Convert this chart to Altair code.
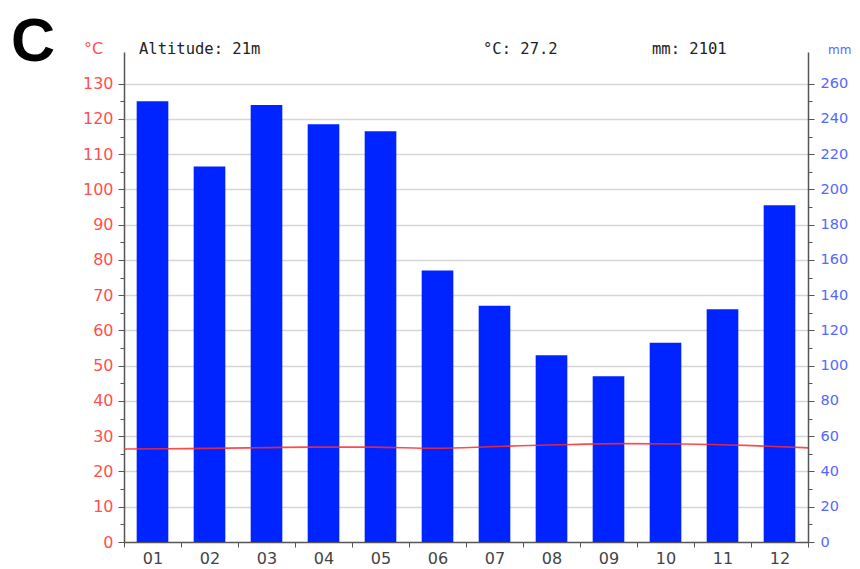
import altair as alt
import pandas as pd

# ---- data ----
months = ["01", "02", "03", "04", "05", "06", "07", "08", "09", "10", "11", "12"]
precip_mm = [250, 213, 248, 237, 233, 154, 134, 106, 94, 113, 132, 191]
temp_c = [26.4, 26.5, 26.7, 26.9, 26.9, 26.6, 27.1, 27.6, 27.9, 27.8, 27.4, 26.7]
temp_ticks = list(range(0, 131, 5))
mm_ticks = list(range(0, 261, 10))
panel_letter = "C"
altitude_text = "Altitude: 21m"
mean_temp_text = "°C: 27.2"
total_mm_text = "mm: 2101"
temp_unit = "°C"
mm_unit = "mm"

df = pd.DataFrame({"month": months, "precip": precip_mm, "temp": temp_c})

RED = "#ff4f4f"
BLUE = "#5468ff"
BAR = "#0024ff"
AXC = "#555555"
GRID = "#d6d6d6"

W, H = 684, 490

bars = alt.Chart(df).mark_bar(color=BAR, width=alt.RelativeBandSize(0.555)).encode(
    x=alt.X("month:O", sort=months,
            scale=alt.Scale(paddingInner=0, paddingOuter=0),
            axis=alt.Axis(title=None, labelAngle=0, tickBand="extent",
                          labelColor="#444444", labelFont="DejaVu Sans", labelFontSize=16,
                          tickSize=5, tickColor=AXC, domainColor=AXC, domainWidth=1.5,
                          labelPadding=3, grid=False)),
    y=alt.Y("precip:Q", scale=alt.Scale(domain=[0, 278], nice=False, zero=True),
            axis=alt.Axis(orient="right", title=None, values=mm_ticks,
                          labelExpr="datum.value % 20 == 0 ? datum.label : ''",
                          labelColor=BLUE, labelFont="DejaVu Sans", labelFontSize=14.5,
                          tickSize={"condition": {"test": "datum.value % 20 == 0", "value": 6}, "value": 4},
                          tickColor=AXC, domainColor=AXC, domainWidth=1.5,
                          labelPadding=6, grid=False)),
)

line = alt.Chart(df).mark_line(color="#ff2a2a", strokeWidth=1.6, interpolate="monotone", opacity=0.85).encode(
    x=alt.X("month:O", sort=months, scale=alt.Scale(type="point", padding=0), axis=None),
    y=alt.Y("temp:Q", scale=alt.Scale(domain=[0, 139], nice=False, zero=True),
            axis=alt.Axis(orient="left", title=None, values=temp_ticks,
                          labelExpr="datum.value % 10 == 0 ? datum.label : ''",
                          labelColor=RED, labelFont="DejaVu Sans", labelFontSize=16,
                          tickSize={"condition": {"test": "datum.value % 10 == 0", "value": 6}, "value": 4},
                          tickColor=AXC, domainColor=AXC, domainWidth=1.5,
                          labelPadding=5, grid=True, gridColor=GRID, gridWidth=1.3,
                          gridOpacity={"condition": {"test": "datum.value % 10 == 0 && datum.value > 0", "value": 1}, "value": 0})),
)

def label(text, x, y, color="#222222", size=15.5, font="DejaVu Sans Mono", weight="normal", align="left"):
    return alt.Chart(pd.DataFrame({"t": [text]})).mark_text(
        align=align, baseline="alphabetic", color=color, fontSize=size, font=font, fontWeight=weight
    ).encode(text="t:N", x=alt.value(x), y=alt.value(y))

texts = [
    label(panel_letter, -113, 9, color="#000000", size=61, font="Liberation Sans", weight="bold"),
    label(temp_unit, -40, 1.5, color=RED, size=16, font="DejaVu Sans"),
    label(mm_unit, 704, 1.5, color=BLUE, size=12, font="DejaVu Sans"),
    label(altitude_text, 15, 1.5),
    label(mean_temp_text, 359, 1.5),
    label(total_mm_text, 528, 1.5),
]

chart = alt.layer(bars, line, *texts).resolve_scale(
    x="independent", y="independent"
).properties(
    width=W, height=H,
    autosize=alt.AutoSizeParams(type="none"),
    padding={"left": 116, "top": 44, "right": 44, "bottom": 26},
    background="white",
).configure_view(stroke=None)

chart.save("out.html", embed_options={"renderer": "svg", "actions": False})
